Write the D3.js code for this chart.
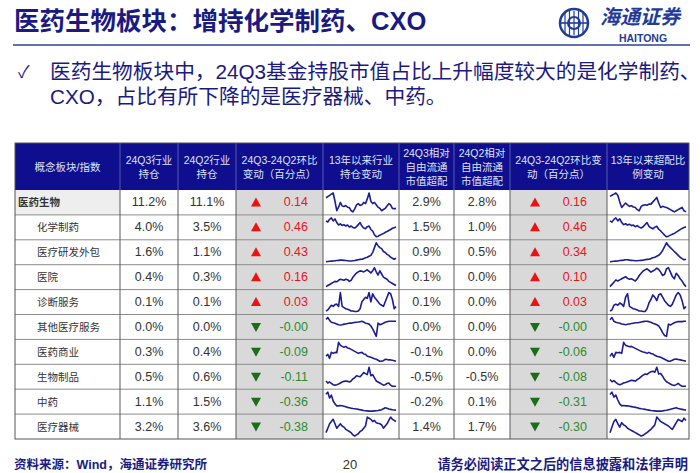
<!DOCTYPE html>
<html><head><meta charset="utf-8">
<script src="https://cdn.jsdelivr.net/npm/d3@7"></script>
<style>
body{margin:0;background:#fff;}
svg text{font-family:"Liberation Sans","Noto Sans CJK SC",sans-serif;}
</style></head><body><div id="container"></div>
<script>
///data
const headers = [
  ["概念板块/指数"],
  ["24Q3行业", "持仓"],
  ["24Q2行业", "持仓"],
  ["24Q3-24Q2环比", "变动（百分点）"],
  ["13年以来行业", "持仓变动"],
  ["24Q3相对", "自由流通", "市值超配"],
  ["24Q2相对", "自由流通", "市值超配"],
  ["24Q3-24Q2环比变", "动（百分点）"],
  ["13年以来超配比", "例变动"]];
const names = ["医药生物", "化学制药", "医疗研发外包", "医院", "诊断服务", "其他医疗服务", "医药商业", "生物制品", "中药", "医疗器械"];
const hold24Q3 = ["11.2%", "4.0%", "1.6%", "0.4%", "0.1%", "0.0%", "0.3%", "0.5%", "1.1%", "3.2%"];
const hold24Q2 = ["11.1%", "3.5%", "1.1%", "0.3%", "0.1%", "0.0%", "0.4%", "0.6%", "1.5%", "3.6%"];
const holdChg = ["0.14", "0.46", "0.43", "0.16", "0.03", "-0.00", "-0.09", "-0.11", "-0.36", "-0.38"];
const over24Q3 = ["2.9%", "1.5%", "0.9%", "0.1%", "0.1%", "0.0%", "-0.1%", "-0.5%", "-0.2%", "1.4%"];
const over24Q2 = ["2.8%", "1.0%", "0.5%", "0.0%", "0.0%", "0.0%", "0.0%", "-0.5%", "0.1%", "1.7%"];
const overChg = ["0.16", "0.46", "0.34", "0.10", "0.03", "-0.00", "-0.06", "-0.08", "-0.31", "-0.30"];

// 13年以来行业持仓 (sparkline shapes)
const holdHist = [
  [75,80,85,90,95,60,20,35,55,40,38,42,35,33,20,15,28,45,50,42,45,55,50,70,95,60,50,55,45,35,30,20,25,30,40,50,45,30,28,30],
  [80,75,88,95,80,90,72,60,66,58,62,55,60,50,55,48,45,52,62,72,55,45,42,52,55,38,30,12,2,5,10,14,18,24,28,33,38,44,47,50],
  [2,3,4,5,6,7,8,9,10,10,9,8,7,6,6,7,8,10,12,14,15,18,22,25,30,35,50,75,100,85,75,70,55,50,40,35,25,20,15,20],
  [5,10,15,20,25,30,28,35,40,38,35,40,38,30,35,50,60,70,75,80,78,75,80,85,78,70,80,95,75,60,80,65,50,45,40,30,25,20,15,10],
  [10,15,25,35,30,38,40,30,90,30,25,20,18,15,10,10,8,8,10,20,50,60,70,65,90,50,85,70,60,50,40,35,30,50,70,90,85,60,20,30],
  [90,100,85,75,72,70,65,62,60,62,65,66,68,70,70,72,74,75,76,78,80,76,70,68,65,55,40,20,0,70,62,65,70,75,78,80,80,80,80,80],
  [30,40,20,50,45,50,48,100,85,80,75,80,72,70,65,60,55,50,45,48,50,42,40,30,28,25,22,18,15,10,5,6,8,15,14,12,12,10,8,5],
  [30,20,25,18,12,10,12,15,20,25,28,30,28,25,30,40,45,55,52,50,60,70,65,60,95,55,60,45,30,25,20,15,10,12,18,20,10,5,5,5],
  [90,100,70,85,55,40,30,30,32,30,28,25,22,20,18,16,15,14,12,10,8,6,5,4,3,3,3,4,5,6,8,10,15,20,18,14,12,10,9,8],
  [20,40,60,70,80,60,40,50,60,50,45,35,30,25,20,10,5,10,15,25,30,40,50,90,85,80,70,75,65,62,60,55,40,50,60,75,90,80,75,70]];
// 13年以来超配比例
const overHist = [
  [80,85,90,95,85,55,30,40,50,42,35,38,32,30,20,15,35,40,42,40,45,45,55,65,75,50,30,35,32,30,25,20,15,10,15,20,25,30,15,10],
  [78,72,85,92,78,88,70,60,64,58,62,55,58,50,55,48,44,50,60,70,52,45,40,48,52,38,30,20,10,2,5,10,14,18,24,30,36,42,46,50],
  [2,3,4,5,6,8,9,10,12,12,10,9,8,7,7,8,9,10,12,14,15,18,22,25,30,35,45,60,80,100,85,75,65,55,45,35,25,18,12,15],
  [5,15,25,35,30,35,40,45,50,42,38,40,35,30,40,55,65,75,80,85,78,70,75,80,88,82,70,55,60,85,90,70,50,40,65,55,40,30,15,5],
  [10,15,35,40,35,45,40,30,70,85,30,25,20,18,15,10,10,8,8,20,45,60,80,70,55,80,85,70,55,45,35,30,40,60,80,90,80,55,20,30],
  [88,100,80,75,72,70,66,64,62,64,66,68,70,72,72,74,76,78,80,80,78,75,70,66,62,55,40,20,5,0,65,60,66,72,76,78,78,78,80,80],
  [30,45,25,50,48,50,45,100,85,82,78,80,75,70,65,60,55,52,50,45,50,44,42,35,30,28,25,20,15,10,5,6,10,15,16,14,12,10,8,5],
  [35,25,30,22,15,12,15,20,22,25,28,32,30,28,35,40,48,55,60,58,65,70,72,68,90,60,62,50,35,25,20,15,10,8,12,18,10,5,5,5],
  [88,100,75,85,60,40,30,32,30,30,28,26,24,22,20,17,15,14,12,10,8,6,5,4,3,3,3,4,6,7,10,12,15,18,20,16,14,12,10,8],
  [20,45,70,80,60,45,65,55,50,40,35,30,25,20,15,10,5,8,15,20,28,35,45,55,90,80,70,65,60,55,50,42,35,50,65,80,75,70,85,75]];

///sizes
let w = 700, h = 473;
const navy = "#1a1a80";
const colEdges = [15, 120, 178, 236, 323, 399, 454, 510, 607, 689];
const headTop = 143, headBot = 190, tableBot = 439;

let svg = d3.select("#container").append("svg").attr("width", w).attr("height", h);

///title
svg.append("text").attr("x", 14).attr("y", 30)
  .attr("fill", navy).style("font-size", "25.5px").style("font-weight", "bold")
  .text("医药生物板块：增持化学制药、CXO");
svg.append("line").attr("x1", 13).attr("x2", 690).attr("y1", 45).attr("y2", 45)
  .attr("stroke", "#2d4394").attr("stroke-width", 1.5);

///logo
const logo = svg.append("g").attr("transform", "translate(574,23)");
logo.append("circle").attr("r", 14).attr("fill", "none").attr("stroke", "#1f3c9a").attr("stroke-width", 2.5);
logo.append("circle").attr("r", 6).attr("fill", "none").attr("stroke", "#1f3c9a").attr("stroke-width", 2);
[-9, -4.5, 0, 4.5, 9].forEach(v => {
  logo.append("line").attr("x1", v).attr("x2", v).attr("y1", -12).attr("y2", 12).attr("stroke", "#1f3c9a").attr("stroke-width", 1.2);
});
logo.append("line").attr("x1", -14).attr("x2", 14).attr("y1", 0).attr("y2", 0).attr("stroke", "#1f3c9a").attr("stroke-width", 1.6);
svg.append("text").attr("x", 600).attr("y", 24).attr("fill", "#1f3c9a")
  .style("font-size", "20px").style("font-weight", "bold").style("font-style", "italic").text("海通证券");
svg.append("text").attr("x", 643).attr("y", 42).attr("text-anchor", "middle").attr("fill", "#1f3c9a")
  .style("font-size", "10.5px").style("font-weight", "bold").text("HAITONG");

///bullet
svg.append("text").attr("x", 18).attr("y", 78).attr("fill", navy).style("font-size", "17px").text("✓");
const bullet = ["医药生物板块中，24Q3基金持股市值占比上升幅度较大的是化学制药、",
  "CXO，占比有所下降的是医疗器械、中药。"];
svg.selectAll(".bl").data(bullet).enter().append("text")
  .attr("x", 50).attr("y", (d, i) => 79 + i * 25)
  .attr("fill", navy).style("font-size", "20.7px").text(d => d);

///table scales
const rows = d3.scaleBand().domain(d3.range(names.length)).range([headBot, tableBot]);

// header
svg.append("rect").attr("x", colEdges[0]).attr("y", headTop)
  .attr("width", colEdges[9] - colEdges[0]).attr("height", headBot - headTop).attr("fill", "#0e0e8e");
headers.forEach((lines, c) => {
  const cx = (colEdges[c] + colEdges[c + 1]) / 2;
  const mid = (headTop + headBot) / 2;
  lines.forEach((t, k) => {
    svg.append("text").attr("x", cx).attr("y", mid + (k - (lines.length - 1) / 2) * 14 + 4)
      .attr("text-anchor", "middle").attr("fill", "#dfe3f5").style("font-size", "10.5px").text(t);
  });
});

// cell backgrounds
svg.append("rect").attr("x", colEdges[0]).attr("y", rows(0))
  .attr("width", colEdges[1] - colEdges[0]).attr("height", rows.bandwidth()).attr("fill", "#eeeeee");
[3, 7].forEach(c => {
  svg.append("rect").attr("x", colEdges[c]).attr("y", headBot)
    .attr("width", colEdges[c + 1] - colEdges[c]).attr("height", tableBot - headBot).attr("fill", "#d9d9d9");
});

// grid
svg.selectAll(".hl").data(d3.range(1, names.length)).enter().append("line")
  .attr("x1", colEdges[0]).attr("x2", colEdges[9])
  .attr("y1", d => rows(d)).attr("y2", d => rows(d))
  .attr("stroke", "#8c8c8c").attr("stroke-width", 1);
svg.selectAll(".vl").data(colEdges.slice(1, 9)).enter().append("line")
  .attr("x1", d => d).attr("x2", d => d).attr("y1", headBot).attr("y2", tableBot)
  .attr("stroke", "#5a5a5a").attr("stroke-width", 1);
svg.selectAll(".vh").data(colEdges.slice(1, 9)).enter().append("line")
  .attr("x1", d => d).attr("x2", d => d).attr("y1", headTop).attr("y2", headBot)
  .attr("stroke", "#6d72b8").attr("stroke-width", 0.8);
svg.append("rect").attr("x", colEdges[0]).attr("y", headTop)
  .attr("width", colEdges[9] - colEdges[0]).attr("height", tableBot - headTop)
  .attr("fill", "none").attr("stroke", "#555").attr("stroke-width", 1);

// body text
const yMid = i => rows(i) + rows.bandwidth() / 2 + 4;
names.forEach((n, i) => {
  svg.append("text").attr("x", i === 0 ? 18 : 37).attr("y", yMid(i))
    .attr("fill", "#333").style("font-size", "10.5px").style("font-weight", i === 0 ? "bold" : "normal").text(n);
});
const centered = [[1, hold24Q3], [2, hold24Q2], [5, over24Q3], [6, over24Q2]];
centered.forEach(([c, arr]) => {
  const cx = (colEdges[c] + colEdges[c + 1]) / 2;
  arr.forEach((v, i) => {
    svg.append("text").attr("x", cx).attr("y", yMid(i)).attr("text-anchor", "middle")
      .attr("fill", "#333").style("font-size", "12.5px").text(v);
  });
});
const chgCols = [[3, holdChg, 20, 15], [7, overChg, 25, 20]];
chgCols.forEach(([c, arr, triPad, numPad]) => {
  arr.forEach((v, i) => {
    const up = !v.startsWith("-");
    const col = up ? "#e8141c" : "#2e8b2e";
    const tx = colEdges[c] + triPad, ty = rows(i) + rows.bandwidth() / 2;
    svg.append("path")
      .attr("d", up ? `M${tx - 5},${ty + 4}L${tx + 5},${ty + 4}L${tx},${ty - 5}Z` : `M${tx - 5},${ty - 4}L${tx + 5},${ty - 4}L${tx},${ty + 5}Z`)
      .attr("fill", up ? "#ee1111" : "#1a6e1a");
    svg.append("text").attr("x", colEdges[c + 1] - numPad).attr("y", yMid(i)).attr("text-anchor", "end")
      .attr("fill", col).style("font-size", "12.5px").text(v);
  });
});

// sparklines
[[4, holdHist], [8, overHist]].forEach(([c, series]) => {
  series.forEach((s, i) => {
    const x = d3.scaleLinear().domain([0, s.length - 1]).range([colEdges[c] + 3, colEdges[c + 1] - 3]);
    const y = d3.scaleLinear().domain(d3.extent(s)).range([rows(i) + rows.bandwidth() - 3, rows(i) + 3]);
    svg.append("path").datum(s)
      .attr("d", d3.line().x((d, k) => x(k)).y(d => y(d)))
      .attr("fill", "none").attr("stroke", "#1c1c94").attr("stroke-width", 1.6)
      .attr("stroke-linejoin", "round");
  });
});

///footer
svg.append("text").attr("x", 14).attr("y", 469).attr("fill", navy)
  .style("font-size", "12.5px").style("font-weight", "bold").text("资料来源：Wind，海通证券研究所");
svg.append("text").attr("x", 350).attr("y", 469).attr("text-anchor", "middle").attr("fill", "#333")
  .style("font-size", "13px").text("20");
svg.append("text").attr("x", 688).attr("y", 469).attr("text-anchor", "end").attr("fill", navy)
  .style("font-size", "13.2px").style("font-weight", "bold").text("请务必阅读正文之后的信息披露和法律声明");
</script></body></html>
